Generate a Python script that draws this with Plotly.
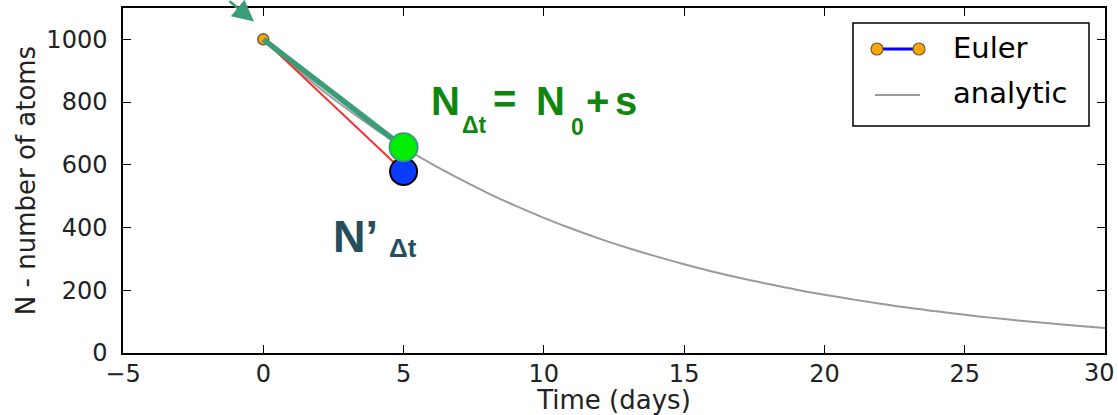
import plotly.graph_objects as go

# Radioactive decay: one Euler step compared with the analytic curve
t_analytic = list(range(0, 31))
n_analytic = [1000, 919, 845, 777, 714, 656, 603, 555, 510, 469, 431,
              396, 364, 335, 308, 283, 260, 239, 220, 202, 186,
              171, 157, 144, 133, 122, 112, 103, 95, 87, 80]

t_euler = [0, 5]
n_euler = [1000, 579]        # N'_dt, the plain Euler estimate

t_step = [0, 5]
n_step = [1000, 656]         # N_dt = N_0 + s

x_ticks = [-5, 0, 5, 10, 15, 20, 25, 30]
x_ticktext = ["\u22125", "0", "5", "10", "15", "20", "25", "30"]
y_ticks = [0, 200, 400, 600, 800, 1000]

W, H = 1118, 415
ML, MR, MT, MB = 123, 13, 8, 62
PW, PH = W - ML - MR, H - MT - MB


def fx(p):
    """pixel column -> paper fraction"""
    return (p - ML) / PW


def fy(p):
    """pixel row -> paper fraction"""
    return (H - MB - p) / PH


TEAL = "#3a9d78"
fig = go.Figure()

fig.add_trace(go.Scatter(x=t_analytic, y=n_analytic, mode="lines",
                         line=dict(color="#9a9a9a", width=2, shape="spline"),
                         name="analytic", showlegend=False))
fig.add_trace(go.Scatter(x=t_euler, y=n_euler, mode="lines",
                         line=dict(color="#ff2a2a", width=2),
                         name="Euler", showlegend=False))
fig.add_trace(go.Scatter(x=t_euler[:1], y=n_euler[:1], mode="markers",
                         marker=dict(size=11, color="#ffa500",
                                     line=dict(color="#6b5a3a", width=1.5)),
                         showlegend=False))
fig.add_trace(go.Scatter(x=t_step, y=n_step, mode="lines",
                         line=dict(color=TEAL, width=5.5), showlegend=False))
fig.add_trace(go.Scatter(x=t_euler[1:], y=n_euler[1:], mode="markers",
                         marker=dict(size=27, color="#0a3cff",
                                     line=dict(color="black", width=2)),
                         showlegend=False))
fig.add_trace(go.Scatter(x=t_step[1:], y=n_step[1:], mode="markers",
                         marker=dict(size=28, color="#00ee00",
                                     line=dict(color=TEAL, width=2)),
                         showlegend=False))

annotations = []
shapes = []

# arrow pointing at the starting value
annotations.append(dict(x=-0.33, y=1057, xref="x", yref="y", ax=-26, ay=-32,
                        text="", showarrow=True, arrowhead=2, arrowsize=1.7,
                        arrowwidth=2.5, arrowcolor=TEAL))


def label(txt, left, base, size, color, family="Liberation Sans", bold=True,
          asc=0.905, desc=0.212):
    # place text so that its left edge and baseline land on the given pixels
    centre = base - (asc - desc) / 2 * size
    annotations.append(dict(
        x=fx(left - 2), y=fy(centre), xref="paper", yref="paper",
        xanchor="left", yanchor="middle", showarrow=False,
        text=f"<b>{txt}</b>" if bold else txt,
        font=dict(family=family, size=size, color=color)))


GREEN_TXT = "#0f870f"
label("N", 431, 115, 40, GREEN_TXT)
label("Δt", 462, 133, 23, GREEN_TXT)
label("=", 493, 113, 40, GREEN_TXT)
label("N", 536, 115, 40, GREEN_TXT)
label("0", 571, 135, 23, GREEN_TXT)
label("+", 586, 115, 40, GREEN_TXT)
label("s", 615, 115, 40, GREEN_TXT)

DARK_TXT = "#254e5c"
label("N’", 333, 252, 45, DARK_TXT)
label("Δt", 389, 257, 26, DARK_TXT)

# last x tick label sits flush with the right edge of the canvas
TICK_FONT = dict(family="DejaVu Sans", size=24, color="#222")
annotations.append(dict(x=fx(W - 1), y=fy(373), xref="paper", yref="paper",
                        xanchor="right", yanchor="middle", showarrow=False,
                        text=x_ticktext[-1], font=TICK_FONT))

# legend box
shapes.append(dict(type="rect", xref="paper", yref="paper",
                   x0=fx(853), x1=fx(1089), y0=fy(126), y1=fy(23),
                   line=dict(color="black", width=1.5), fillcolor="white",
                   layer="above"))
shapes.append(dict(type="line", xref="paper", yref="paper",
                   x0=fx(877), x1=fx(919), y0=fy(49), y1=fy(49),
                   line=dict(color="#0000ff", width=3), layer="above"))
for cx in (877, 919):
    shapes.append(dict(type="circle", xref="paper", yref="paper",
                       xsizemode="pixel", ysizemode="pixel",
                       xanchor=fx(cx), yanchor=fy(49),
                       x0=-6, x1=6, y0=-6, y1=6,
                       fillcolor="#ffa500", line=dict(color="#6b5a3a", width=1.2),
                       layer="above"))
shapes.append(dict(type="line", xref="paper", yref="paper",
                   x0=fx(875), x1=fx(920), y0=fy(95), y1=fy(95),
                   line=dict(color="#9a9a9a", width=2), layer="above"))
label("Euler", 953, 58, 29, "black", family="DejaVu Sans", bold=False,
      asc=0.928, desc=0.236)
label("analytic", 953, 103, 29, "black", family="DejaVu Sans", bold=False,
      asc=0.928, desc=0.236)

axis_common = dict(showline=True, linecolor="black", linewidth=1.5,
                   mirror="ticks", ticks="inside", ticklen=8, tickwidth=1.2,
                   tickcolor="black", showgrid=False, zeroline=False,
                   ticklabeloverflow="allow", tickfont=TICK_FONT)

fig.update_layout(
    width=W, height=H,
    margin=dict(l=ML, r=MR, t=MT, b=MB, autoexpand=False),
    paper_bgcolor="white", plot_bgcolor="white",
    showlegend=False,
    xaxis=dict(range=[-5, 30], tickvals=x_ticks,
               ticktext=x_ticktext[:-1] + [""],
               title=dict(text="Time (days)", standoff=11,
                          font=dict(family="DejaVu Sans", size=26, color="#222")),
               ticklabelstandoff=-2, **axis_common),
    yaxis=dict(range=[0, 1100], tickvals=y_ticks,
               title=dict(text="N - number of atoms", standoff=3,
                          font=dict(family="DejaVu Sans", size=26, color="#222")),
               ticklabelstandoff=9, **axis_common),
    annotations=annotations, shapes=shapes,
)

fig.write_html("out.html")
